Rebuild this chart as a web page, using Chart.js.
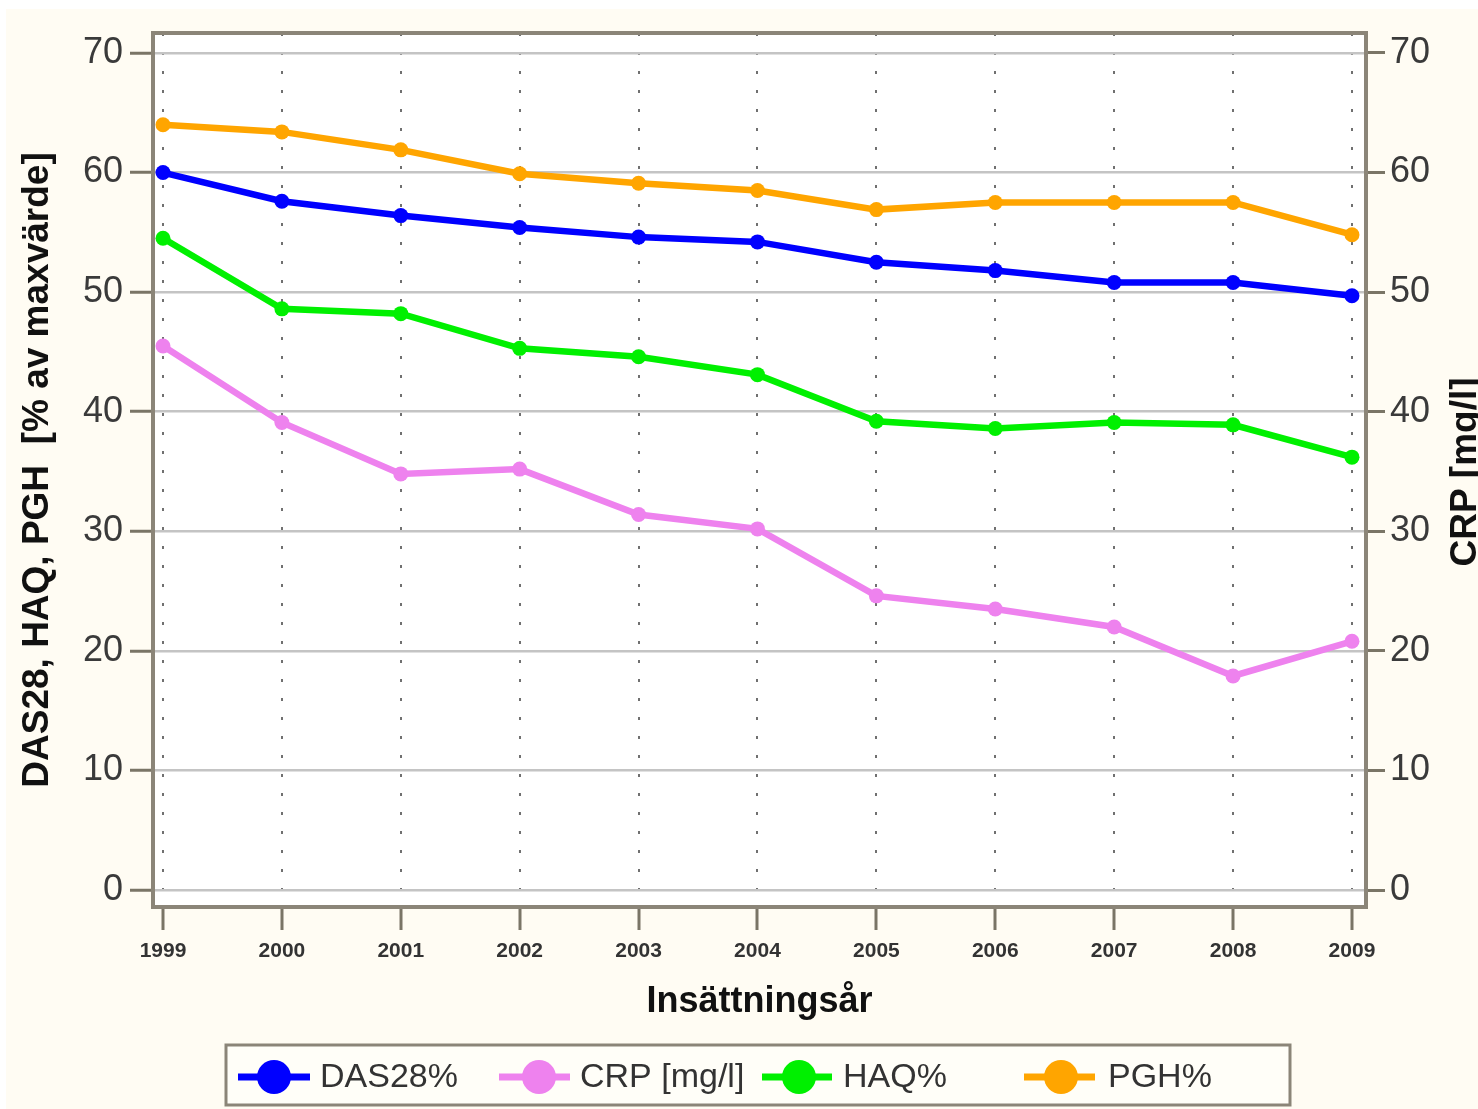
<!DOCTYPE html>
<html>
<head>
<meta charset="utf-8">
<script src="https://cdn.jsdelivr.net/npm/chart.js@4"></script>
<style>
  html, body { margin: 0; padding: 0; background: #fff; }
  #wrap { width: 1478px; height: 1109px; }
</style>
</head>
<body>
<div id="wrap"><canvas id="chart" width="1478" height="1109"></canvas></div>
<script>
// values
const years = [1999, 2000, 2001, 2002, 2003, 2004, 2005, 2006, 2007, 2008, 2009];
const das28 = [60.0, 57.6, 56.4, 55.4, 54.6, 54.2, 52.5, 51.8, 50.8, 50.8, 49.7];
const crp   = [45.5, 39.1, 34.8, 35.2, 31.4, 30.2, 24.6, 23.5, 22.0, 17.9, 20.8];
const haq   = [54.5, 48.6, 48.2, 45.3, 44.6, 43.1, 39.2, 38.6, 39.1, 38.9, 36.2];
const pgh   = [64.0, 63.4, 61.9, 59.9, 59.1, 58.5, 56.9, 57.5, 57.5, 57.5, 54.8];
const yTicks = [0, 10, 20, 30, 40, 50, 60, 70];

const FONT = "'Liberation Sans', Arial, sans-serif";
Chart.defaults.font.family = FONT;

const pts = arr => arr.map((v, i) => ({ x: years[i], y: v }));

function series(label, values, color, axis) {
  return {
    label: label,
    data: pts(values),
    yAxisID: axis,
    borderColor: color,
    backgroundColor: color,
    borderWidth: 6.5,
    pointRadius: 7.5,
    pointHoverRadius: 7.5,
    pointBorderWidth: 0,
    tension: 0
  };
}

// legend item positions (layout only)
const legendSlots = [
  { x1: 238, x2: 310, cx: 274, tx: 320 },
  { x1: 499, x2: 570, cx: 539, tx: 580 },
  { x1: 762, x2: 832, cx: 799, tx: 843 },
  { x1: 1024, x2: 1095, cx: 1061, tx: 1108 }
];

const decor = {
  id: 'decor',
  beforeDraw(chart) {
    const { ctx, chartArea: a } = chart;
    ctx.save();
    ctx.fillStyle = '#ffffff';
    ctx.fillRect(0, 0, chart.width, chart.height);
    ctx.fillStyle = '#fffcf3';
    ctx.fillRect(6, 9, chart.width - 6, chart.height - 9);
    ctx.fillStyle = '#ffffff';
    ctx.fillRect(a.left, a.top, a.right - a.left, a.bottom - a.top);
    ctx.restore();
  },
  afterDatasetsDraw(chart) {
    const { ctx, chartArea: a } = chart;
    ctx.save();
    ctx.strokeStyle = '#8b8578';
    ctx.lineWidth = 4;
    ctx.strokeRect(a.left, a.top, a.right - a.left, a.bottom - a.top);
    ctx.restore();
  },
  afterDraw(chart) {
    const ctx = chart.ctx;
    ctx.save();
    // right axis title, reads bottom to top like the left one
    ctx.translate(1466, 472);
    ctx.rotate(-Math.PI / 2);
    ctx.font = 'bold 37px ' + FONT;
    ctx.fillStyle = '#111';
    ctx.textAlign = 'center';
    ctx.textBaseline = 'middle';
    ctx.fillText('CRP [mg/l]', 0, 0);
    ctx.restore();

    // legend box
    ctx.save();
    ctx.fillStyle = '#fffef8';
    ctx.fillRect(226, 1045, 1064, 60);
    ctx.strokeStyle = '#8b8578';
    ctx.lineWidth = 3;
    ctx.strokeRect(226, 1045, 1064, 60);
    const y = 1077;
    chart.data.datasets.forEach((ds, i) => {
      const s = legendSlots[i];
      ctx.strokeStyle = ds.borderColor;
      ctx.lineWidth = 7;
      ctx.beginPath();
      ctx.moveTo(s.x1, y);
      ctx.lineTo(s.x2, y);
      ctx.stroke();
      ctx.fillStyle = ds.borderColor;
      ctx.beginPath();
      ctx.arc(s.cx, y, 17, 0, Math.PI * 2);
      ctx.fill();
      ctx.fillStyle = '#333';
      ctx.font = '34px ' + FONT;
      ctx.textAlign = 'left';
      ctx.textBaseline = 'middle';
      ctx.fillText(ds.label, s.tx, y + 1);
    });
    ctx.restore();
  }
};

const ctx = document.getElementById('chart').getContext('2d');
const chart = new Chart(ctx, {
  type: 'line',
  data: {
    datasets: [
      series('DAS28%', das28, '#0000ff', 'y'),
      series('CRP [mg/l]', crp, '#ee82ee', 'y2'),
      series('HAQ%', haq, '#00f000', 'y'),
      series('PGH%', pgh, '#ffa500', 'y')
    ]
  },
  options: {
    responsive: false,
    animation: false,
    devicePixelRatio: 1,
    layout: { padding: { top: 33, left: 0, right: 0, bottom: 0 } },
    plugins: {
      legend: { display: false },
      tooltip: { enabled: false }
    },
    scales: {
      x: {
        type: 'linear',
        min: 1998.916,
        max: 2009.118,
        afterBuildTicks: s => { s.ticks = years.map(v => ({ value: v })); },
        afterFit: s => { s.height = 202; },
        grid: {
          color: '#707070',
          lineWidth: 2,
          tickLength: 23,
          tickWidth: 3,
          tickColor: '#7a7566'
        },
        border: { display: false, dash: [3, 16] },
        ticks: {
          callback: v => String(v),
          font: { size: 21, weight: 'bold' },
          color: '#333',
          padding: 9,
          maxRotation: 0,
          autoSkip: false
        },
        title: {
          display: true,
          text: 'Insättningsår',
          font: { size: 36, weight: 'bold' },
          color: '#111',
          padding: { top: 0, bottom: 85 }
        }
      },
      y: {
        position: 'left',
        min: -1.42,
        max: 71.67,
        afterBuildTicks: s => { s.ticks = yTicks.map(v => ({ value: v })); },
        afterFit: s => { s.width = 153; },
        grid: {
          color: '#c4c4c4',
          lineWidth: 2.5,
          tickLength: 23,
          tickWidth: 3,
          tickColor: '#7a7566'
        },
        border: { display: false },
        ticks: {
          font: { size: 36 },
          color: '#3a3a3a',
          padding: 7
        },
        title: {
          display: true,
          text: 'DAS28, HAQ, PGH  [% av maxvärde]',
          font: { size: 37, weight: 'bold' },
          color: '#111',
          padding: { top: 16, bottom: 0 }
        }
      },
      y2: {
        position: 'right',
        min: -1.42,
        max: 71.67,
        afterBuildTicks: s => { s.ticks = yTicks.map(v => ({ value: v })); },
        afterFit: s => { s.width = 112; },
        grid: {
          drawOnChartArea: false,
          tickLength: 19,
          tickWidth: 3,
          tickColor: '#7a7566'
        },
        border: { display: false },
        ticks: {
          font: { size: 36 },
          color: '#3a3a3a',
          padding: 5
        }
      }
    }
  },
  plugins: [decor]
});
</script>
</body>
</html>
